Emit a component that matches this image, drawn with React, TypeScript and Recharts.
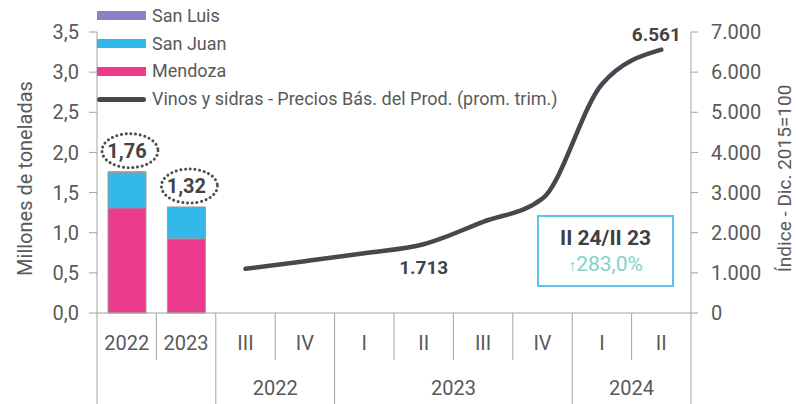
import React from "react";
import {
  ComposedChart,
  Bar,
  Line,
  XAxis,
  YAxis,
  LabelList,
} from "recharts";

// categories on the x axis (first two are yearly bars, then quarters)
const categories = ["2022", "2023", "III", "IV", "I", "II", "III", "IV", "I", "II"];
const groups = [null, null, "2022", "2022", "2023", "2023", "2023", "2023", "2024", "2024"];

// millones de toneladas
const mendoza = [1.31, 0.925, null, null, null, null, null, null, null, null];
const sanJuan = [0.44, 0.39, null, null, null, null, null, null, null, null];
const sanLuis = [0.01, 0.005, null, null, null, null, null, null, null, null];
const totals = ["1,76", "1,32"];

// índice - dic. 2015=100
const vinos = [null, null, 1100, 1290, 1490, 1713, 2270, 2850, 5700, 6561];

const leftTicks = [0, 0.5, 1, 1.5, 2, 2.5, 3, 3.5];
const rightTicks = [0, 1000, 2000, 3000, 4000, 5000, 6000, 7000];

const W = 796;
const H = 404;
const LEFT_W = 97;
const RIGHT_W = 105;
const XAXIS_H = 91;
const BAND = (W - LEFT_W - RIGHT_W) / categories.length;

const TEXT = "#595959";
const AXIS = "#a3a3a3";
const FONT = "Roboto, 'Noto Sans', sans-serif";

const data = categories.map((c, i) => ({
  idx: i,
  mendoza: mendoza[i],
  sanJuan: sanJuan[i],
  sanLuis: sanLuis[i],
  total: totals[i] ?? null,
  vinos: vinos[i],
}));

const fmtLeft = (v: number) => v.toFixed(1).replace(".", ",");
const fmtRight = (v: number) =>
  String(v).replace(/\B(?=(\d{3})+(?!\d))/g, ".");

function QuarterTick({ x, y, payload }: any) {
  const i = Number(payload.value);
  const left = x - BAND / 2;
  const g = groups[i];
  const groupStart = i === 0 || g !== groups[i - 1];
  let span = 0;
  if (groupStart && g) {
    while (groups[i + span] === g) span++;
  }
  const last = i === categories.length - 1;
  return (
    <g>
      <line x1={left} x2={left} y1={y} y2={groupStart ? y + XAXIS_H : y + 47} stroke={AXIS} strokeWidth={1} />
      {last && <line x1={left + BAND} x2={left + BAND} y1={y} y2={y + XAXIS_H} stroke={AXIS} strokeWidth={1} />}
      <text x={x} y={y + 37} textAnchor="middle" fill={TEXT} fontSize={20} fontFamily={FONT}>
        {categories[i]}
      </text>
      {groupStart && g && (
        <text x={left + (span * BAND) / 2} y={y + 82} textAnchor="middle" fill={TEXT} fontSize={20} fontFamily={FONT}>
          {g}
        </text>
      )}
    </g>
  );
}

function TotalLabel(props: any) {
  const { x, y, width, value } = props;
  if (value == null) return null;
  const cx = x + width / 2;
  const cy = y - 21;
  return (
    <g>
      <ellipse cx={cx + 3} cy={cy} rx={28} ry={17} fill="none" stroke="#505050" strokeWidth={3}
        strokeDasharray="0.1 4.6" strokeLinecap="round" />
      <text x={cx} y={cy + 7} textAnchor="middle" fill="#444" fontSize={20} fontWeight={700} fontFamily={FONT}>
        {value}
      </text>
    </g>
  );
}

function VinosLabel(props: any) {
  const { x, y, index, value } = props;
  const below = index === 5;
  const above = index === categories.length - 1;
  if (!below && !above) return null;
  return (
    <text x={above ? x - 5 : x} y={above ? y - 9 : y + 30} textAnchor="middle" fill="#444"
      fontSize={19} fontWeight={700} fontFamily={FONT}>
      {fmtRight(value)}
    </text>
  );
}

function AxisTitle({ viewBox, value, dx, size }: any) {
  const cx = viewBox.x + dx;
  const cy = viewBox.y + viewBox.height / 2 + 6;
  return (
    <text x={cx} y={cy} transform={`rotate(-90 ${cx} ${cy})`} textAnchor="middle" dominantBaseline="central"
      fill={TEXT} fontSize={size} fontFamily={FONT}>
      {value}
    </text>
  );
}

const legendItems = [
  { label: "San Luis", color: "#8f7fc6", line: false },
  { label: "San Juan", color: "#33b8ec", line: false },
  { label: "Mendoza", color: "#ec3b8c", line: false },
  { label: "Vinos y sidras - Precios Bás. del Prod. (prom. trim.)", color: "#47474f", line: true },
];

export default function App() {
  return (
    <div style={{ position: "absolute", left: 0, top: 0, width: W, height: H, background: "#fff", fontFamily: FONT }}>
      <ComposedChart width={W} height={H} data={data} margin={{ top: 32, right: 0, bottom: 0, left: 0 }} barSize={38}>
        <XAxis dataKey="idx" type="category" height={XAXIS_H} tickLine={false} tickSize={0} tickMargin={0}
          axisLine={{ stroke: AXIS }} tick={<QuarterTick />} interval={0} />
        <YAxis yAxisId="left" orientation="left" width={LEFT_W} domain={[0, 3.5]} ticks={leftTicks}
          tickFormatter={fmtLeft} axisLine={{ stroke: AXIS }} tickLine={{ stroke: AXIS }} tickSize={8} tickMargin={10}
          tick={{ fill: TEXT, fontSize: 20, fontFamily: FONT }}
          label={<AxisTitle value="Millones de toneladas" dx={25} size={20} />} />
        <YAxis yAxisId="right" orientation="right" width={RIGHT_W} domain={[0, 7000]} ticks={rightTicks}
          tickFormatter={fmtRight} axisLine={{ stroke: AXIS }} tickLine={{ stroke: AXIS }} tickSize={7} tickMargin={13}
          tick={{ fill: TEXT, fontSize: 20, fontFamily: FONT, textAnchor: "start" }}
          label={<AxisTitle value="Índice - Dic. 2015=100" dx={93} size={19} />} />
        <Bar yAxisId="left" dataKey="mendoza" stackId="a" fill="#ec3b8c" stroke="#9a9a9a" strokeWidth={1} isAnimationActive={false} />
        <Bar yAxisId="left" dataKey="sanJuan" stackId="a" fill="#33b8ec" stroke="#9a9a9a" strokeWidth={1} isAnimationActive={false} />
        <Bar yAxisId="left" dataKey="sanLuis" stackId="a" fill="#8f7fc6" stroke="#9a9a9a" strokeWidth={1} isAnimationActive={false}>
          <LabelList dataKey="total" content={<TotalLabel />} />
        </Bar>
        <Line yAxisId="right" dataKey="vinos" type="monotone" stroke="#47474f" strokeWidth={4.5} dot={false}
          strokeLinecap="round" isAnimationActive={false}>
          <LabelList dataKey="vinos" content={<VinosLabel />} />
        </Line>
      </ComposedChart>

      <div style={{ position: "absolute", left: 97, top: 2 }}>
        {legendItems.map((it) => (
          <div key={it.label} style={{ display: "flex", alignItems: "center", height: 27.8 }}>
            <div style={{
              width: 49, height: it.line ? 5 : 9, background: it.color,
              borderRadius: it.line ? 3 : 0, marginRight: 6,
            }} />
            <span style={{ fontSize: 18, color: TEXT, whiteSpace: "nowrap", lineHeight: "20px" }}>{it.label}</span>
          </div>
        ))}
      </div>

      <div style={{
        position: "absolute", left: 537, top: 215, width: 133, height: 68,
        border: "2px solid #5cc4e6", background: "#fff", textAlign: "center",
      }}>
        <div style={{ fontSize: 21, fontWeight: 700, color: "#404040", marginTop: 8, lineHeight: "26px" }}>II 24/II 23</div>
        <div style={{ fontSize: 21, color: "#7fd4c4", lineHeight: "26px" }}>
          <span style={{ fontSize: 16 }}>↑</span>283,0%
        </div>
      </div>
    </div>
  );
}
